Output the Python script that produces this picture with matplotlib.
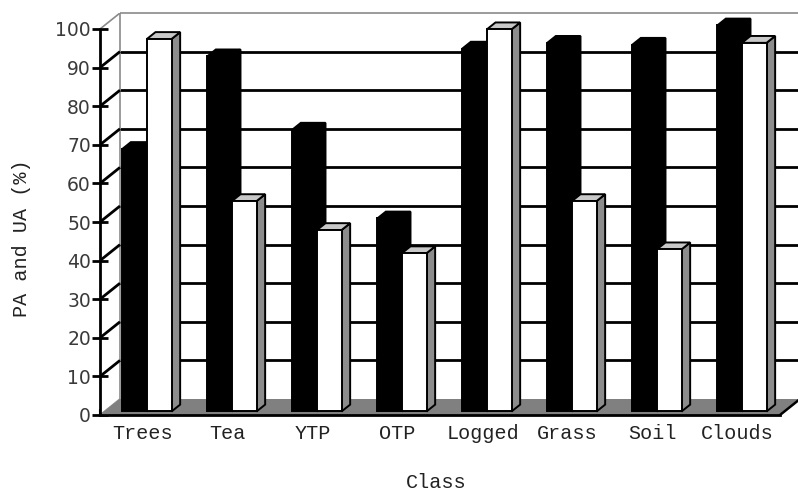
import matplotlib
matplotlib.use("Agg")
import matplotlib.pyplot as plt
from matplotlib.patches import Polygon
import numpy as np

# Accuracy per land-cover class
classes = ["Trees", "Tea", "YTP", "OTP", "Logged", "Grass", "Soil", "Clouds"]
pa = [68, 92, 73, 50, 94, 95.5, 95, 100]      # producer's accuracy (black)
ua = [96.5, 54.5, 47, 41, 99, 54.5, 42, 95.5]  # user's accuracy (white)
yticks = list(range(0, 101, 10))

# pseudo-3D depth offsets (data units)
DX = 20 / 85.0
DY = 16 / 3.86
F0, F1 = 0.22, 0.65   # front / back depth fractions of the bars
BW = 0.29             # bar width per series

fig = plt.figure(figsize=(7.98, 4.91), dpi=100)
ax = fig.add_axes([100 / 798, (491 - 415) / 491, 700 / 798, (415 - 13) / 491])
n = len(classes)
ax.set_xlim(0, n + DX)
ax.set_ylim(0, 100 + DY)

# back wall gridlines
for v in yticks[1:]:
    col = "#8a8a8a" if v == 100 else "black"
    lw = 1.2 if v == 100 else 2.0
    ax.plot([DX, n + DX + 1], [v + DY, v + DY], color=col, lw=lw, zorder=1,
            clip_on=False, solid_capstyle="butt")
# back wall left edge
ax.plot([DX, DX], [DY, 100 + DY], color="#8a8a8a", lw=1.2, zorder=1)
# side wall diagonals
for v in yticks:
    col = "#8a8a8a" if v in (0, 100) else "black"
    lw = 1.2 if v in (0, 100) else 2.0
    ax.plot([0, DX], [v, v + DY], color=col, lw=lw, zorder=2,
            solid_capstyle="butt")

# floor
ax.add_patch(Polygon([(0, 0), (n, 0), (n + DX, DY), (DX, DY)], closed=True,
                     facecolor="#808080", edgecolor="none", zorder=2))
ax.plot([n, n + DX], [0, DY], color="black", lw=1.8, zorder=3)


def bar3d(x0, v, face, top, side):
    ox0, oy0 = F0 * DX, F0 * DY
    ox1, oy1 = F1 * DX, F1 * DY
    x1 = x0 + BW
    kw = dict(closed=True, edgecolor="black", lw=1.4, joinstyle="miter", zorder=5)
    ax.add_patch(Polygon([(x1 + ox0, oy0), (x1 + ox1, oy1), (x1 + ox1, v + oy1),
                          (x1 + ox0, v + oy0)], facecolor=side, **kw))
    ax.add_patch(Polygon([(x0 + ox0, v + oy0), (x1 + ox0, v + oy0),
                          (x1 + ox1, v + oy1), (x0 + ox1, v + oy1)],
                         facecolor=top, **kw))
    ax.add_patch(Polygon([(x0 + ox0, oy0), (x1 + ox0, oy0), (x1 + ox0, v + oy0),
                          (x0 + ox0, v + oy0)], facecolor=face, **kw))


for i in range(n):
    bar3d(i + 0.21, pa[i], "black", "black", "black")
    bar3d(i + 0.21 + BW, ua[i], "white", "#c8c8c8", "#8c8c8c")

# front axes
for s in ("top", "right"):
    ax.spines[s].set_visible(False)
ax.spines["left"].set_bounds(0, 100)
ax.spines["bottom"].set_bounds(0, n)
for s in ("left", "bottom"):
    ax.spines[s].set_linewidth(2.0)
    ax.spines[s].set_zorder(6)

ax.set_yticks(yticks)
ax.set_yticklabels([str(t) for t in yticks], fontsize=13.5, color="#3a3a3a",
                   family="DejaVu Sans")
ax.tick_params(axis="y", direction="inout", length=11, width=2, pad=1)

ax.set_xticks(np.arange(0, n + 1))
ax.set_xticklabels([])
ax.tick_params(axis="x", direction="in", length=4.5, width=1.5)
for i, c in enumerate(classes):
    ax.text(i + 0.5, -2.3, c, ha="center", va="top", fontsize=14.5,
            family="Liberation Mono", color="#222222", clip_on=False)

fig.text(436 / 798, 1 - 482 / 491, "Class", ha="center", va="center",
         fontsize=14.5, family="Liberation Mono", color="#222222")
fig.text(22 / 798, 1 - 238 / 491, "PA and UA (%)", ha="center", va="center",
         rotation=90, fontsize=14.5, family="Liberation Mono", color="#222222")

fig.savefig("out.png", dpi=100)
